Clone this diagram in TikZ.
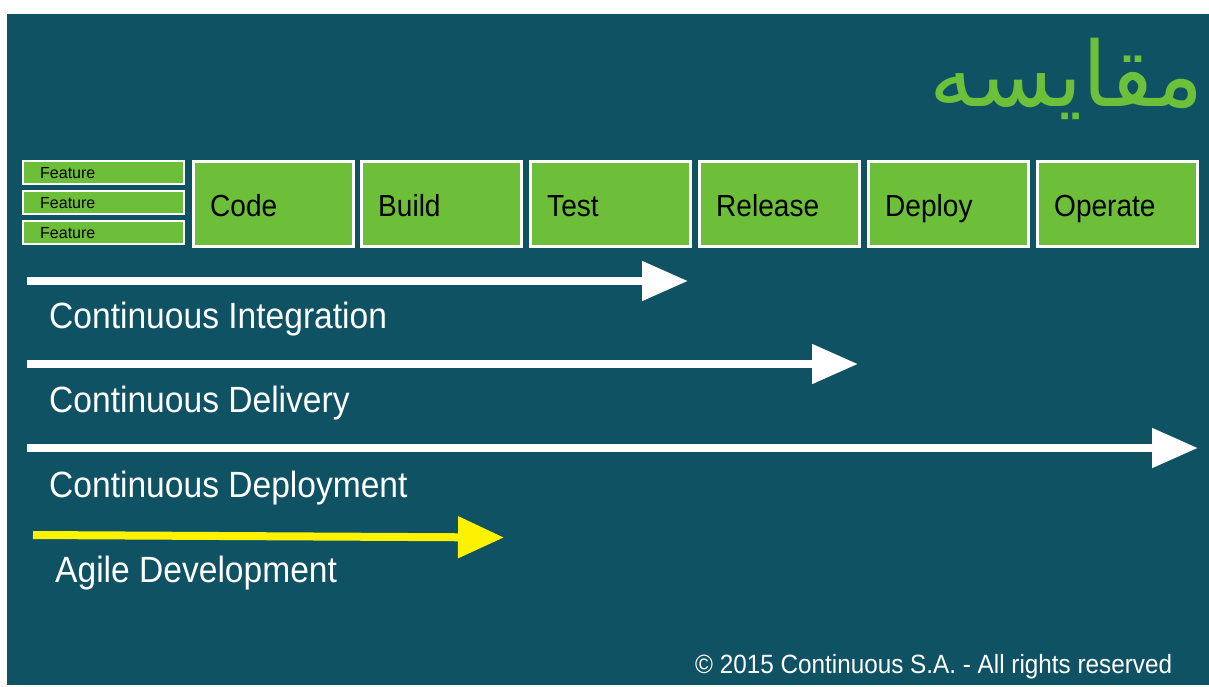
\documentclass[tikz,border=0pt]{standalone}
\usepackage{fontspec}
\setmainfont{Liberation Sans}
\newfontfamily\condfont[FakeStretch=0.92]{Liberation Sans}
\newfontfamily\arabicfont[Script=Arabic]{DejaVu Sans}
\TeXXeTstate=1
\usetikzlibrary{arrows.meta,calc}
\definecolor{bgteal}{RGB}{15,82,100}
\definecolor{boxgreen}{RGB}{109,190,56}
\definecolor{titlegreen}{RGB}{108,192,58}
\definecolor{arrowyellow}{RGB}{255,242,0}
\tikzset{
  stagebox/.style={draw=white, line width=3pt, fill=boxgreen, minimum width=160pt, minimum height=85pt, inner sep=0pt},
  featbox/.style={draw=white, line width=2pt, fill=boxgreen, minimum width=161pt, minimum height=23pt, inner sep=0pt},
  stagelabel/.style={anchor=base west, inner sep=0pt, font=\condfont\fontsize{30.5}{34}\selectfont, text=black},
  featlabel/.style={anchor=base west, inner sep=0pt, font=\fontsize{16}{18}\selectfont, text=black},
  bigarrow/.style={line width=8pt, draw=white, -{Triangle[length=46pt,width=38pt]}},
  yellowarrow/.style={line width=8pt, draw=arrowyellow, -{Triangle[length=46pt,width=40pt]}},
  flowlabel/.style={anchor=base west, inner sep=0pt, font=\condfont\fontsize{36.5}{40}\selectfont, text=white},
}
\begin{document}
\begin{tikzpicture}[x=1pt,y=-1pt]
\useasboundingbox (0,0) rectangle (1209,686);
\fill[white] (0,0) rectangle (1209,686);
\fill[bgteal] (7,14) rectangle (1209,685);
% title
\node[anchor=base east, inner sep=0pt, text=titlegreen, font=\arabicfont\fontsize{90}{100}\selectfont] (title) at (1204,106) {\beginR مقایسه\endR};
% feature boxes
\node[featbox] (f1) at (103.5,172) {};
\node[featbox] (f2) at (103.5,202) {};
\node[featbox] (f3) at (103.5,232.5) {};
\node[featlabel] (f1t) at (40,178) {Feature};
\node[featlabel] (f2t) at (40,208) {Feature};
\node[featlabel] (f3t) at (40,238.5) {Feature};
% stage boxes
\node[stagebox] (code) at (273.5,204) {};
\node[stagebox] (build) at (441.5,204) {};
\node[stagebox] (test) at (610.5,204) {};
\node[stagebox] (release) at (779.5,204) {};
\node[stagebox] (deploy) at (948.5,204) {};
\node[stagebox] (operate) at (1117.5,204) {};
\node[stagelabel] (codet) at (210,216) {Code};
\node[stagelabel] (buildt) at (378,216) {Build};
\node[stagelabel] (testt) at (547,216) {Test};
\node[stagelabel] (releaset) at (716,216) {Release};
\node[stagelabel] (deployt) at (885,216) {Deploy};
\node[stagelabel] (operatet) at (1054,216) {Operate};
% arrows
\coordinate (ci0) at (27,281);
\coordinate (ci1) at (688,281);
\coordinate (cd0) at (27,364);
\coordinate (cd1) at (858,364);
\coordinate (cp0) at (27,448);
\coordinate (cp1) at (1198,448);
\coordinate (ag0) at (33,535);
\coordinate (ag1) at (504,537.5);
\draw[bigarrow] (ci0) -- (ci1);
\draw[bigarrow] (cd0) -- (cd1);
\draw[bigarrow] (cp0) -- (cp1);
\draw[yellowarrow] (ag0) -- (ag1);
% labels
\node[flowlabel] (cit) at (49,328) {Continuous Integration};
\node[flowlabel] (cdt) at (49,412) {Continuous Delivery};
\node[flowlabel] (cpt) at (49,497) {Continuous Deployment};
\node[flowlabel] (agt) at (55,582) {Agile Development};
% footer
\node[anchor=base west, inner sep=0pt, text=white, font=\condfont\fontsize{26.4}{30}\selectfont] (footer) at (695,673) {© 2015 Continuous S.A. - All rights reserved};
\end{tikzpicture}
\end{document}
